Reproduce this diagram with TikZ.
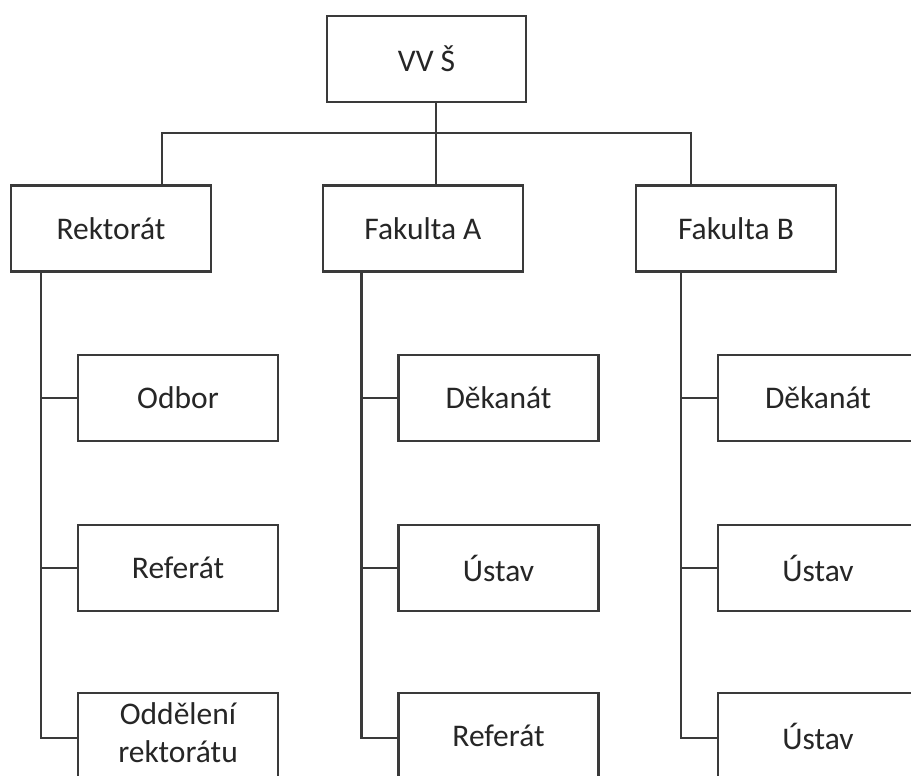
\documentclass[tikz,border=0pt]{standalone}
\usepackage{fontspec}
\setmainfont{Carlito}
\definecolor{linegray}{HTML}{3A3A3A}
\definecolor{textgray}{HTML}{262626}
\begin{document}
\begin{tikzpicture}[x=1pt,y=-1pt,
  unit/.style={draw=linegray,line width=2.6pt,fill=white,rectangle,
    minimum width=200pt,minimum height=86pt,inner sep=0pt,align=center,
    text=textgray,font=\fontsize{31.5}{38}\selectfont},
  link/.style={draw=linegray,line width=2.2pt}]
\useasboundingbox (0,0) rectangle (911,776);
\clip (0,0) rectangle (911,776);
\fill[white] (0,0) rectangle (911,776);

% top level
\node[unit,minimum width=199pt] (vvs) at (426.5,59) {VV Š};

% second level
\node[unit] (rk) at (111,228.5) {Rektorát};
\node[unit] (fa) at (423,228.5) {Fakulta A};
\node[unit] (fb) at (736,228.5) {Fakulta B};

% third level: Rektorát
\node[unit] (rk1) at (178,398) {Odbor};
\node[unit] (rk2) at (178,568) {Referát};
\node[unit] (rk3) at (178,736)
  {\raisebox{5pt}{\begin{tabular}{@{}c@{}}Oddělení\\rektorátu\end{tabular}}};

% third level: Fakulta A
\node[unit] (fa1) at (498.5,398) {Děkanát};
\node[unit] (fa2) at (498.5,568) {Ústav};
\node[unit] (fa3) at (498.5,736) {Referát};

% third level: Fakulta B
\node[unit] (fb1) at (818,398) {Děkanát};
\node[unit] (fb2) at (818,568) {Ústav};
\node[unit] (fb3) at (818,736) {Ústav};

% junction points of the tree
\coordinate (trunk) at (436,133);
\coordinate (rkup) at (162,133);
\coordinate (fbup) at (691,133);
\coordinate (rkspine) at (41,0);
\coordinate (faspine) at (361.5,0);
\coordinate (fbspine) at (681,0);
\coordinate (lowrow) at (0,738);

% upper connectors
\draw[link] (trunk |- vvs.south) -- (trunk |- fa.north);
\draw[link] (rkup |- rk.north) |- (trunk) -| (fbup |- fb.north);

% spines with branches
\draw[link] (rkspine |- rk.south) |- (rk3.west |- lowrow);
\draw[link] (rkspine |- rk1.west) -- (rk1.west);
\draw[link] (rkspine |- rk2.west) -- (rk2.west);

\draw[link] (faspine |- fa.south) |- (fa3.west |- lowrow);
\draw[link] (faspine |- fa1.west) -- (fa1.west);
\draw[link] (faspine |- fa2.west) -- (fa2.west);

\draw[link] (fbspine |- fb.south) |- (fb3.west |- lowrow);
\draw[link] (fbspine |- fb1.west) -- (fb1.west);
\draw[link] (fbspine |- fb2.west) -- (fb2.west);
\end{tikzpicture}
\end{document}
